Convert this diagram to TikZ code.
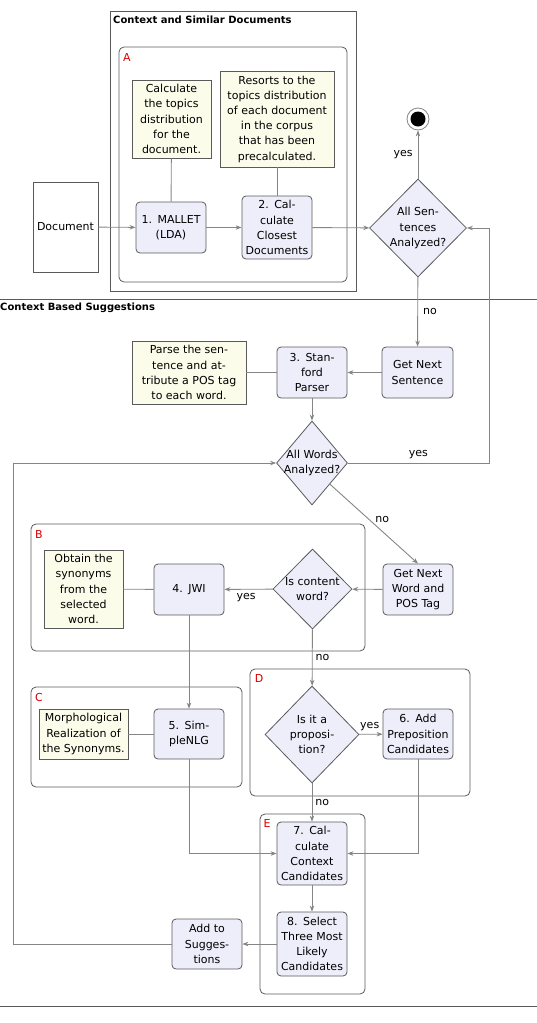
\documentclass[tikz,border=0pt]{standalone}
\usepackage{fontspec}
\setmainfont{DejaVu Sans}
\usetikzlibrary{shapes.geometric,arrows.meta}
\definecolor{actfill}{HTML}{EEEEFB}
\definecolor{notefill}{HTML}{FCFCEA}
\definecolor{edgegray}{HTML}{858585}
\definecolor{bordergray}{HTML}{5A5A5A}
\begin{document}
\begin{tikzpicture}[x=1pt,y=-1pt,
  every node/.style={font=\fontsize{11}{15.2}\selectfont, inner sep=0pt},
  act/.style={draw=bordergray, fill=actfill, rounded corners=4pt, align=center, line width=0.8pt},
  note/.style={draw=bordergray, fill=notefill, align=center, line width=0.8pt},
  dec/.style={diamond, draw=bordergray, fill=actfill, line width=0.8pt, inner sep=0pt},
  region/.style={draw=bordergray, rounded corners=5pt, line width=0.8pt},
  flow/.style={draw=edgegray, line width=0.9pt, -{Stealth[length=6pt,width=4.5pt]}},
  link/.style={draw=edgegray, line width=0.9pt},
  lbl/.style={font=\fontsize{11}{13}\selectfont},
  reg/.style={text=red!85!black, font=\fontsize{11}{13}\selectfont},
  ttl/.style={font=\bfseries\fontsize{10}{12}\selectfont, anchor=west},
]
\useasboundingbox (0,0) rectangle (537,1023);

% separators and frames
\draw[bordergray, line width=0.8pt] (0,299) -- (537,299);
\draw[bordergray, line width=0.8pt] (0,1006) -- (537,1006);
\draw[bordergray, line width=0.8pt] (110,11) rectangle (356,291);
\node[ttl] (t1) at (113,20) {Context and Similar Documents};
\node[ttl] (t2) at (0,308) {Context Based Suggestions};

\draw[region] (119,47) rectangle (347,282);
\node[reg] (rA) at (127,57) {A};
\draw[region] (31,524) rectangle (365,651);
\node[reg] (rB) at (39,534) {B};
\draw[region] (31,687) rectangle (242,787);
\node[reg] (rC) at (39,697) {C};
\draw[region] (250,669) rectangle (470,796);
\node[reg] (rD) at (259,678) {D};
\draw[region] (260,814) rectangle (365,994);
\node[reg] (rE) at (267,823) {E};

% nodes
\node[draw=bordergray, fill=white, line width=0.8pt, minimum width=65pt, minimum height=90pt] (doc) at (65.5,227) {Document};
\node[act, minimum width=70pt, minimum height=51pt] (mallet) at (171,227.5) {1.\enspace MALLET\\(LDA)};
\node[act, minimum width=70pt, minimum height=63pt] (closest) at (277,227.5) {2.\enspace Cal-\\culate\\Closest\\Documents};
\node[note, minimum width=79pt, minimum height=78pt] (ncalc) at (171.5,119) {Calculate\\the topics\\distribution\\for the\\document.};
\node[note, minimum width=114pt, minimum height=96pt] (nres) at (277,119) {Resorts to the\\topics distribution\\of each document\\in the corpus\\that has been\\precalculated.};
\node[dec, minimum width=97pt, minimum height=98pt,
  label={[align=center, font=\fontsize{11}{15.2}\selectfont]center:All Sen-\\tences\\Analyzed?}] (d1) at (418,228) {};
\node[circle, draw=edgegray, fill=white, line width=0.8pt, minimum size=22pt] (endc) at (418,119) {};
\fill[black] (endc.center) circle (7.5pt);

\node[act, minimum width=71pt, minimum height=51pt] (getsent) at (417.5,372.5) {Get Next\\Sentence};
\node[act, minimum width=70pt, minimum height=51pt] (stan) at (312,372.5) {3.\enspace Stan-\\ford\\Parser};
\node[note, minimum width=114pt, minimum height=63pt] (nparse) at (189,372.5) {Parse the sen-\\tence and at-\\tribute a POS tag\\to each word.};
\node[dec, minimum width=71pt, minimum height=84pt,
  label={[align=center, font=\fontsize{11}{15.2}\selectfont]center:All Words\\Analyzed?}] (d2) at (312,463) {};

\node[act, minimum width=70pt, minimum height=51pt] (getword) at (418,589.5) {Get Next\\Word and\\POS Tag};
\node[dec, minimum width=79pt, minimum height=80pt,
  label={[align=center, font=\fontsize{11}{15.2}\selectfont]center:Is content\\word?}] (d3) at (312.5,589) {};
\node[act, minimum width=70pt, minimum height=51pt] (jwi) at (189,589.5) {4.\enspace JWI};
\node[note, minimum width=79pt, minimum height=78pt] (nobtain) at (83.5,589) {Obtain the\\synonyms\\from the\\selected\\word.};

\node[act, minimum width=70pt, minimum height=50pt] (simple) at (189,734) {5.\enspace Sim-\\pleNLG};
\node[note, minimum width=89pt, minimum height=50pt] (nmorph) at (83.5,734) {Morphological\\Realization of\\the Synonyms.};
\node[dec, minimum width=94pt, minimum height=97pt,
  label={[align=center, font=\fontsize{11}{15.2}\selectfont]center:Is it a\\proposi-\\tion?}] (d4) at (312,734.5) {};
\node[act, minimum width=70pt, minimum height=50pt] (addprep) at (418,734) {6.\enspace Add\\Preposition\\Candidates};

\node[act, minimum width=70pt, minimum height=63pt] (ctx) at (312,853.5) {7.\enspace Cal-\\culate\\Context\\Candidates};
\node[act, minimum width=70pt, minimum height=64pt] (sel) at (312,944) {8.\enspace Select\\Three Most\\Likely\\Candidates};
\node[act, minimum width=70pt, minimum height=50pt] (addsug) at (207,944) {Add to\\Sugges-\\tions};

% connectors
\coordinate (r1) at (489,463);
\coordinate (r2) at (489,228);
\coordinate (l1) at (13,944);
\coordinate (l2) at (13,463);
\coordinate (c1) at (189,853.5);
\coordinate (c2) at (418,853.5);

\draw[flow] (doc) -- (mallet);
\draw[flow] (mallet) -- (closest);
\draw[flow] (closest) -- (d1);
\draw[link] (ncalc) -- (mallet);
\draw[link] (nres) -- (closest);
\draw[flow] (d1) -- node[lbl, left=5pt, pos=0.5] {yes} (endc);
\draw[flow] (d1) -- node[lbl, right=5pt, pos=0.5] {no} (getsent);
\draw[flow] (getsent) -- (stan);
\draw[link] (stan) -- (nparse);
\draw[flow] (stan) -- (d2);
\draw[flow] (d2.east) -- node[lbl, above=4pt, pos=0.5] {yes} (r1) -- (r2) -- (d1.east);
\draw[flow] (d2.south east) -- node[lbl, above right=1pt, pos=0.5] {no} (getword.north);
\draw[flow] (getword) -- (d3);
\draw[flow] (d3) -- node[lbl, below=4pt, pos=0.55] {yes} (jwi);
\draw[link] (jwi) -- (nobtain);
\draw[flow] (jwi) -- (simple);
\draw[link] (simple) -- (nmorph);
\draw[flow] (d3) -- node[lbl, right=3pt, pos=0.5] {no} (d4);
\draw[flow] (d4) -- node[lbl, above=3pt, pos=0.45] {yes} (addprep);
\draw[flow] (simple.south) -- (c1) -- (ctx.west);
\draw[flow] (addprep.south) -- (c2) -- (ctx.east);
\draw[flow] (d4) -- node[lbl, right=3pt, pos=0.5] {no} (ctx);
\draw[flow] (ctx) -- (sel);
\draw[flow] (sel) -- (addsug);
\draw[flow] (addsug.west) -- (l1) -- (l2) -- (d2.west);
\end{tikzpicture}
\end{document}
